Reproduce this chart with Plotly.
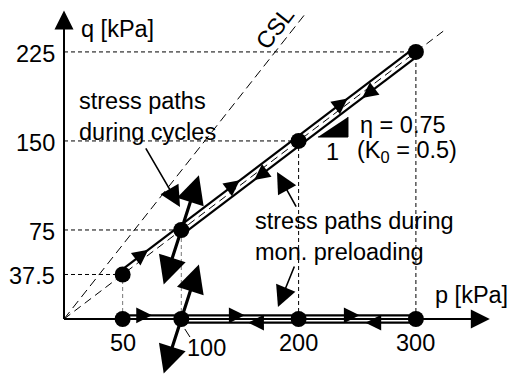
import math
import plotly.graph_objects as go

# ---------------- data ----------------
p_ticks = [50, 100, 200, 300]
q_ticks = [37.5, 75, 150, 225]
p_k0 = [50, 100, 200, 300]          # states on the K0 line
q_k0 = [37.5, 75, 150, 225]
eta = 0.75                           # K0 stress ratio
M_csl = 1.25                         # slope of CSL
p_k0_end = 325
p_csl_end = 205
p_axis_end = 363
q_axis_end = 260
p_load = [50, 300]                   # monotonic loading range
p_unload = [300, 100]                # unloading range
cycle_p = [100, 100]                 # centres of cyclic paths
cycle_q = [75, 0]
cycle_dp = 15
cycle_dq = 46
k0_load_arrows = [74, 152, 244]
k0_unload_arrows = [160, 252]
ax_load_arrows = [75, 154, 252]
ax_unload_arrows = [157, 257]
tri_p = [216.5, 242.1, 242.1]
tri_q = [153.3, 153.3, 170.2]

# ---------------- layout geometry ----------------
W, H = 516, 376
OX, OY = 64, 319          # pixel position of origin
SX, SY = 1.173, 1.187     # px per kPa
xr = [-OX / SX, (W - OX) / SX]
yr = [-(H - OY) / SY, OY / SY]

FONT = dict(family="Liberation Sans, Arial, Helvetica, sans-serif", size=23.5, color="black")

fig = go.Figure()


def line(xs, ys, color="black", width=1, dash="solid"):
    fig.add_trace(go.Scatter(x=xs, y=ys, mode="lines", hoverinfo="skip",
                             line=dict(color=color, width=width, dash=dash)))


# guide lines
for p, q in zip(p_k0, q_k0):
    line([0, p], [q, q], "black", 1, "4px,3px")
    vcol = "#777777" if p <= 100 else "black"
    line([p, p], [0, q], vcol, 1, "4px,3px")

# CSL and K0 lines
line([0, p_csl_end], [0, M_csl * p_csl_end], "black", 1, "9px,5px")
line([0, p_k0_end], [0, eta * p_k0_end], "black", 1, "8px,5px")

# axes lines
line([0, 0], [0, q_axis_end - 5], "black", 2)
line([0, p_axis_end - 5], [0, 0], "black", 2)

# offset of stress path lines from K0 line (perpendicular, 4 px)
ux, uy = SX, eta * SY
nrm = math.hypot(ux, uy)
ux, uy = ux / nrm, uy / nrm
d = 4.2
offp, offq = -uy * d / SX, ux * d / SY
da = 3.7 / SY

# loading along K0 (upper), unloading (lower)
line([p + offp for p in p_load], [eta * p + offq for p in p_load], "black", 2.2)
line([p - offp for p in p_unload], [eta * p - offq for p in p_unload], "black", 2.2)
# along p axis
line(p_load, [da, da], "black", 2.2)
line(p_unload, [-da, -da], "black", 2.2)

# slope triangle
fig.add_trace(go.Scatter(x=tri_p, y=tri_q, fill="toself", fillcolor="black", mode="lines",
                         line=dict(color="black", width=1), hoverinfo="skip"))

# state points
fig.add_trace(go.Scatter(x=p_k0 + p_ticks, y=q_k0 + [0] * len(p_ticks), mode="markers",
                         marker=dict(color="black", size=16), hoverinfo="skip"))

ann = []


def arrow(xt, yt, xs, ys, width=1.5, size=1.0, head=2):
    ann.append(dict(x=xt, y=yt, ax=xs, ay=ys, xref="x", yref="y", axref="x", ayref="y",
                    text="", showarrow=True, arrowhead=head, arrowwidth=width,
                    arrowsize=size, arrowcolor="black", standoff=0))


# axis arrowheads
arrow(0, q_axis_end, 0, q_axis_end - 20, 2, 1.9)
arrow(p_axis_end, 0, p_axis_end - 20, 0, 2, 1.9)

# cyclic paths (bold double arrows)
for cp, cq in zip(cycle_p, cycle_q):
    arrow(cp + cycle_dp, cq + cycle_dq, cp, cq, 3.2, 1.75)
    arrow(cp - cycle_dp, cq - cycle_dq, cp, cq, 3.2, 1.75)


def path_arrow(p_tip, q_tip, dirx, diry):
    L = 9.0
    ann.append(dict(x=p_tip, y=q_tip, ax=-L * dirx, ay=L * diry, xref="x", yref="y",
                    text="", showarrow=True, arrowhead=2, arrowwidth=1.5,
                    arrowsize=2.1, arrowcolor="black", standoff=0))


for p in k0_load_arrows:
    path_arrow(p + offp, eta * p + offq, ux, uy)
for p in k0_unload_arrows:
    path_arrow(p - offp, eta * p - offq, -ux, -uy)
for p in ax_load_arrows:
    path_arrow(p, da, 1, 0)
for p in ax_unload_arrows:
    path_arrow(p, -da, -1, 0)

# pointer arrows
arrow(98.9, 94.4, 69, 145, 1.6, 2.6)
arrow(181.6, 123.8, 198.6, 93.5, 1.6, 2.6)
arrow(182.4, 10.1, 196.9, 45.5, 1.6, 2.6)
# leader for label 100
line([103, 107.4], [-8.4, -15.2], "black", 1)


def text(x, y, s, xanchor="center", yanchor="middle", align="center", angle=0):
    ann.append(dict(x=x, y=y, xref="x", yref="y", text=s, showarrow=False, font=FONT,
                    xanchor=xanchor, yanchor=yanchor, align=align, textangle=angle))


# tick labels
for q in q_ticks:
    lab = ("%g" % q)
    text(-6.0, q - 1.5, lab, xanchor="right")
for p in p_ticks:
    if p == 100:
        text(121.9, -24.4, "100")
    else:
        text(p, -20.2, str(p))

text(45.2, 244.3, "q [kPa]")
text(347.8, 20.2, "p [kPa]")
text(179.9, 245.2, "CSL", angle=-52)
text(11.1, 171.0, "stress paths<br>during cycles", xanchor="left", align="left")
text(161.1, 69.9, "stress paths during<br>mon. preloading", xanchor="left", align="left")
text(250.6, 163.4, "η = 0.75", xanchor="left")
text(228.5, 140.7, "1")
text(248.1, 140.7, "(K<sub>0</sub> = 0.5)", xanchor="left")

fig.update_layout(
    width=W, height=H, autosize=False,
    margin=dict(l=0, r=0, t=0, b=0, pad=0),
    paper_bgcolor="white", plot_bgcolor="white",
    showlegend=False,
    xaxis=dict(range=xr, visible=False, fixedrange=True),
    yaxis=dict(range=yr, visible=False, fixedrange=True),
    annotations=ann,
)

fig.write_html("out.html", config={"displayModeBar": False})
